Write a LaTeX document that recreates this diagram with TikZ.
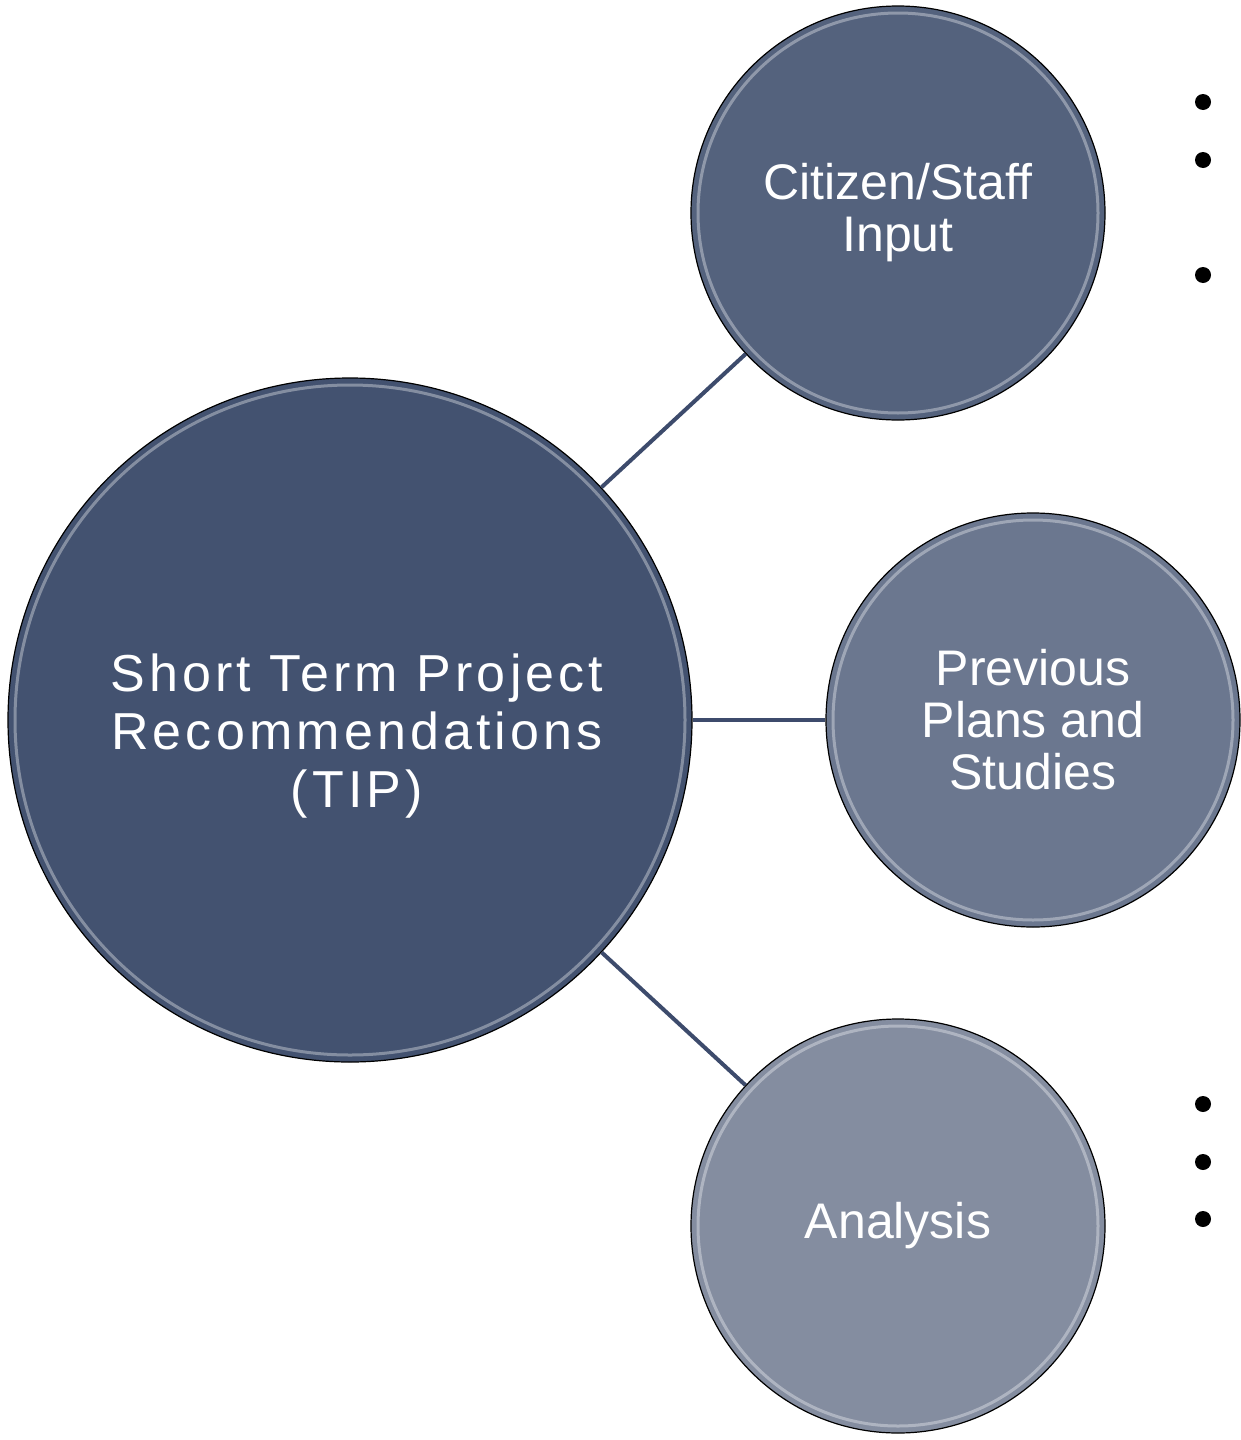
\documentclass[tikz,border=0pt]{standalone}
\usepackage{fontspec}
\setmainfont{Liberation Sans}
\newfontfamily\hubfont[LetterSpace=8]{Liberation Sans}
\usetikzlibrary{positioning,calc}

\definecolor{hubfill}{RGB}{67,82,112}
\definecolor{inputfill}{RGB}{84,98,125}
\definecolor{plansfill}{RGB}{107,119,143}
\definecolor{analysisfill}{RGB}{132,141,160}
\definecolor{linkcol}{RGB}{61,75,108}

\begin{document}
\begin{tikzpicture}[x=1pt, y=-1pt,
    rim/.style={path picture={
        \draw[white, opacity=0.35, line width=3pt]
          let \p1=(path picture bounding box.east), \p2=(path picture bounding box.center)
          in (\p2) circle ({\x1-\x2-7pt});}},
    hub/.style={circle, draw=black, line width=1.2pt, fill=hubfill, rim, minimum size=684pt, inner sep=0pt, text=white, align=center, font=\hubfont\fontsize{52}{58}\selectfont},
    spoke/.style={circle, draw=black, line width=1.2pt, rim, minimum size=414pt, inner sep=0pt, text=white, align=center, font=\fontsize{50}{52}\selectfont},
    dot/.style={circle, fill=black, minimum size=16pt, inner sep=0pt},
    link/.style={draw=linkcol, line width=4pt}]

\useasboundingbox (0,0) rectangle (1240,1440);

% Central circle
\node[hub] (tip) at (350,720) {\raisebox{-24pt}[0pt][0pt]{\kern14pt\begin{tabular}{@{}c@{}}Short Term Project\\Recommendations\\(TIP)\end{tabular}}};

% Outer circles
\node[spoke, fill=plansfill, right of=tip, node distance=683pt] (plans) {Previous\\Plans and\\Studies};
\node[spoke, fill=inputfill, above of=plans, node distance=507pt, xshift=-135pt] (input) {Citizen/Staff\\Input};
\node[spoke, fill=analysisfill, below of=plans, node distance=506pt, xshift=-135pt] (analysis) {Analysis};

% Bullets
\foreach \y [count=\i] in {102,160,275}
  \node[dot] (upper\i) at (1203,\y) {};
\foreach \y [count=\i] in {1104,1162,1219}
  \node[dot] (lower\i) at (1203,\y) {};

% Connections
\draw[link] (tip) -- (input);
\draw[link] (tip) -- (plans);
\draw[link] (tip) -- (analysis);

\end{tikzpicture}
\end{document}
